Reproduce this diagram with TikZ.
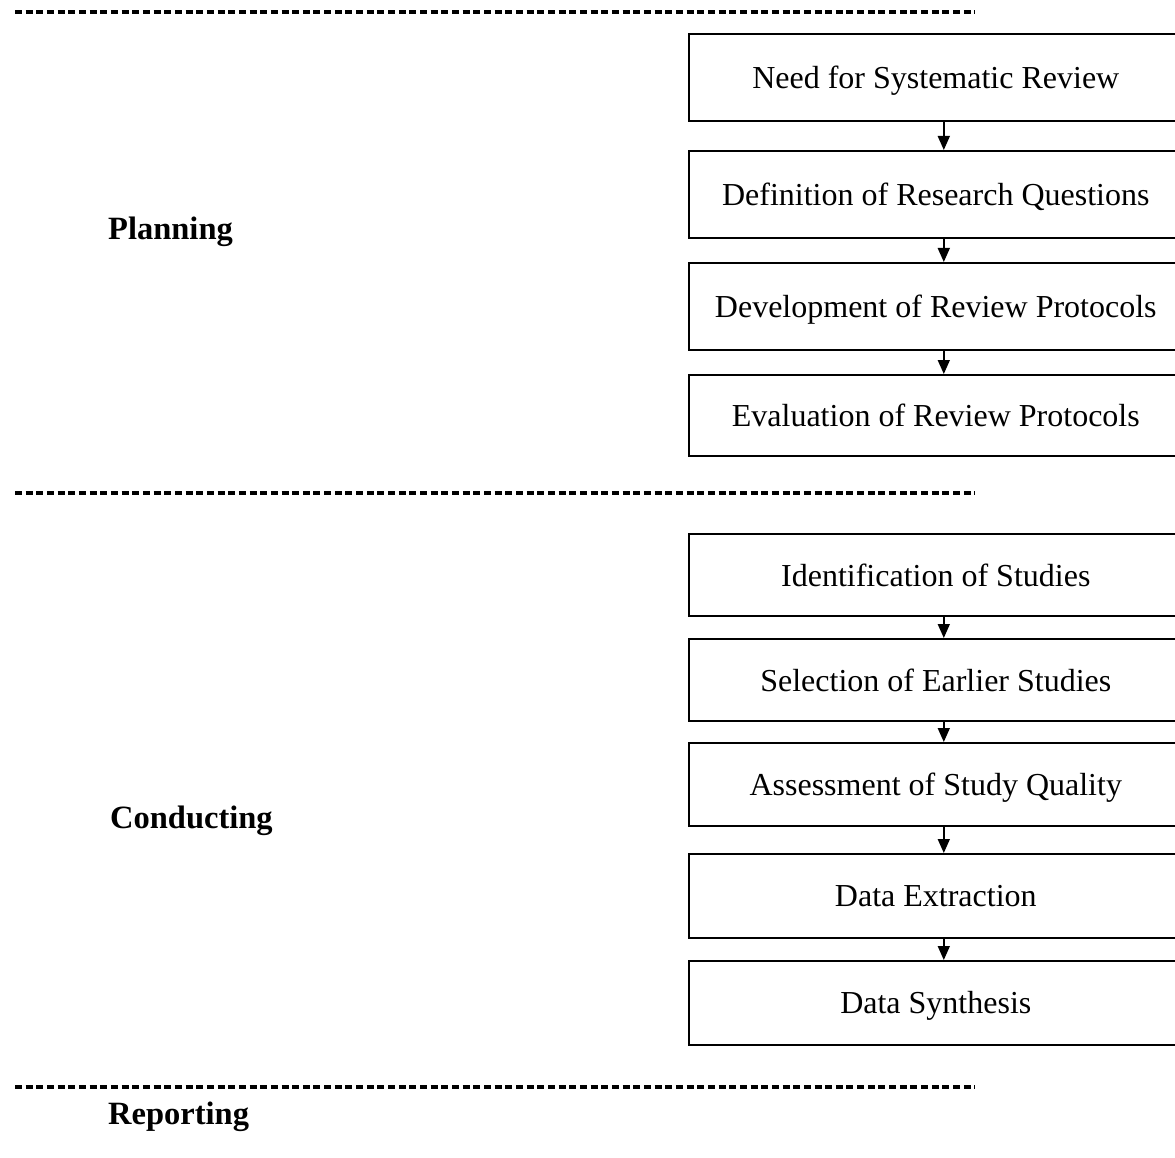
\documentclass[tikz,border=0pt]{standalone}
\usepackage{fontspec}
\setmainfont{Liberation Serif}
\usetikzlibrary{arrows.meta}
\begin{document}
\begin{tikzpicture}[x=1pt,y=-1pt,
  stepbox/.style={draw,line width=1.6pt,minimum width=494pt,anchor=north west,
    inner sep=0pt,text depth=0pt,font=\fontsize{32}{37}\selectfont},
  phase/.style={anchor=west,inner sep=0pt,font=\fontsize{32.5}{37}\selectfont\bfseries},
  sep/.style={line width=3.4pt,dash pattern=on 7pt off 3.66pt},
  flow/.style={line width=1.5pt,-{Triangle[length=14pt,width=12pt]}},
]
\useasboundingbox (0,0) rectangle (1175,1158);

% separators between the phases
\coordinate (s1a) at (15,12);   \coordinate (s1b) at (975,12);
\coordinate (s2a) at (15,493);  \coordinate (s2b) at (975,493);
\coordinate (s3a) at (15,1087); \coordinate (s3b) at (975,1087);
\draw[sep] (s1a) -- (s1b);
\draw[sep] (s2a) -- (s2b);
\draw[sep] (s3a) -- (s3b);

% phase labels
\node[phase] (planning)   at (108,232)  {Planning};
\node[phase] (conducting) at (110,821)  {Conducting};
\node[phase] (reporting)  at (108,1117) {Reporting};

% planning steps
\node[stepbox,minimum height=87pt] (b1) at (688,33)  {Need for Systematic Review};
\node[stepbox,minimum height=87pt] (b2) at (688,150) {Definition of Research Questions};
\node[stepbox,minimum height=87pt] (b3) at (688,262) {Development of Review Protocols};
\node[stepbox,minimum height=81pt] (b4) at (688,374) {Evaluation of Review Protocols};

% conducting steps
\node[stepbox,minimum height=82pt] (c1) at (688,533) {Identification of Studies};
\node[stepbox,minimum height=82pt] (c2) at (688,638) {Selection of Earlier Studies};
\node[stepbox,minimum height=83pt] (c3) at (688,742) {Assessment of Study Quality};
\node[stepbox,minimum height=84pt] (c4) at (688,853) {Data Extraction};
\node[stepbox,minimum height=84pt] (c5) at (688,960) {Data Synthesis};

% flow between steps
\foreach \a/\b in {b1/b2,b2/b3,b3/b4,c1/c2,c2/c3,c3/c4,c4/c5}
  \draw[flow] ([xshift=8pt]\a.south) -- ([xshift=8pt]\b.north);
\end{tikzpicture}
\end{document}
